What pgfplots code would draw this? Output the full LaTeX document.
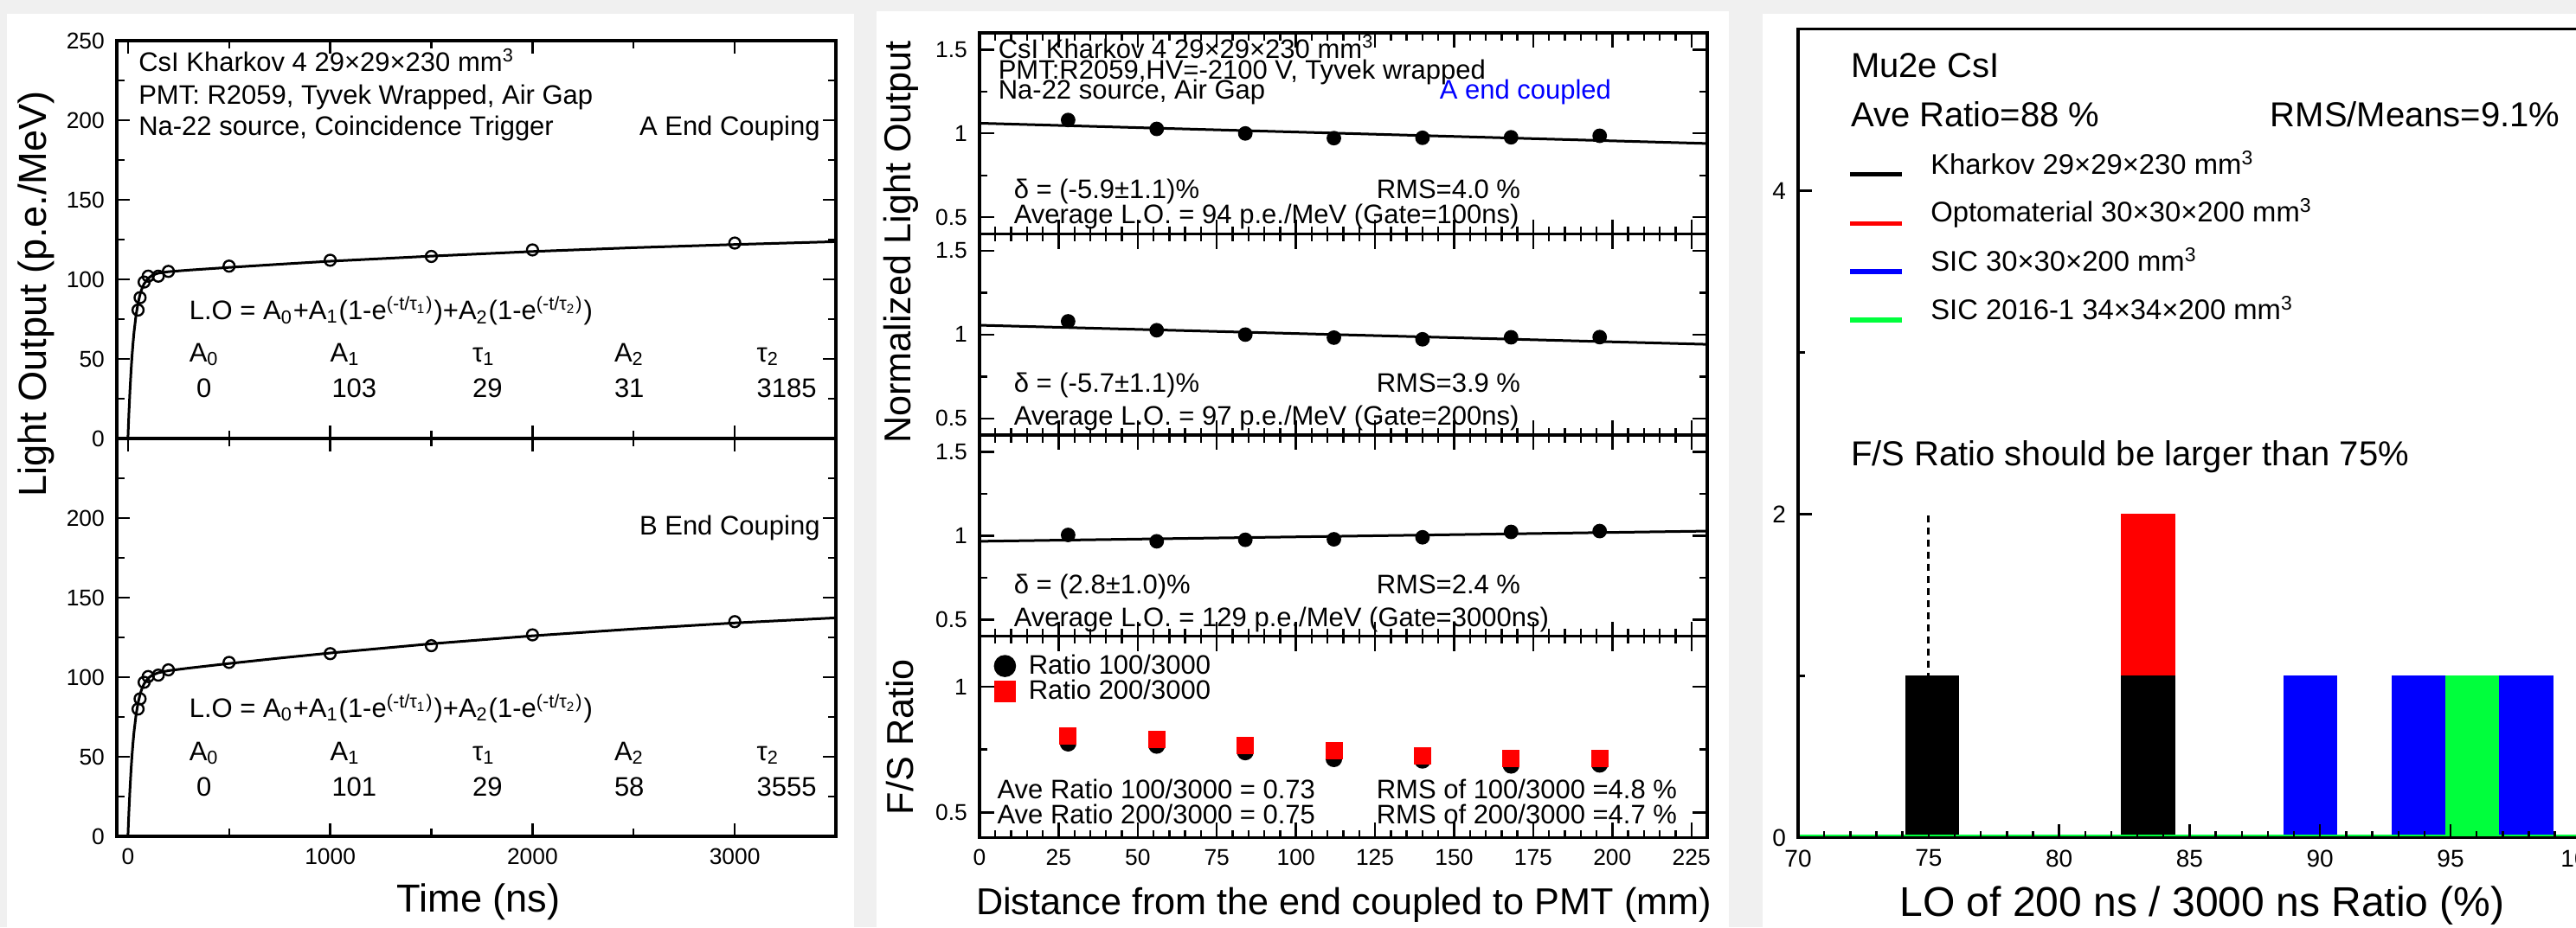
\documentclass[border=0pt]{standalone}
\usepackage{pgfplots}
\pgfplotsset{compat=1.18}
\usepackage{fontspec}
\setmainfont{Liberation Sans}
\definecolor{bg}{HTML}{F0F0F0}
\definecolor{hred}{RGB}{255,0,0}
\definecolor{hblue}{RGB}{0,0,255}
\definecolor{hgreen}{RGB}{0,255,60}
\pgfplotsset{
  common/.style={scale only axis, anchor=south west, tick align=inside,
    axis line style={line width=0.85pt}, tick style={line width=0.6pt,black},
    tick label style={font=\fontsize{6.6}{7}\selectfont}, clip=true},
  leftax/.style={common, width=207.75pt, height=115pt, xmin=-55, xmax=3500, ymin=0, ymax=250,
    xtick={0,1000,2000,3000}, minor xtick={500,1500,2500},
    ytick={0,50,100,150,200,250}, minor ytick={25,75,125,175,225},
    major tick length=3.75pt, minor tick length=2.2pt},
  midax/.style={common, width=210.25pt, height=58.15pt, xmin=0, xmax=230,
    xtick={0,25,50,75,100,125,150,175,200,225}, minor x tick num=4,
    major tick length=4.25pt, minor tick length=2.15pt},
  midy/.style={ymin=0.4, ymax=1.6, ytick={0.5,1,1.5}, yticklabels={0.5,1,1.5}, minor ytick={0.75,1.25}},
  fitline/.style={black, line width=0.75pt, mark=none},
  dots/.style={only marks, mark=*, mark size=1.9pt, black},
  circs/.style={only marks, mark=o, mark size=1.6pt, black, mark options={line width=0.6pt}},
}
\begin{document}
\begin{tikzpicture}
\path[use as bounding box] (0pt,0pt) rectangle (744.25pt,268pt);
\fill[bg] (0pt,0pt) rectangle (744.25pt,268pt);
\fill[white] (2pt,0pt) rectangle (246.75pt,264pt);
\fill[white] (253.25pt,0pt) rectangle (499.5pt,264.75pt);
\fill[white] (509.25pt,0pt) rectangle (744.25pt,264pt);

% ---------------- left: upper
\begin{axis}[leftax, at={(33.75pt,141.25pt)}, xticklabels={}, yticklabels={0,50,100,150,200,250}]
\addplot[fitline] coordinates {(0,0) (2,6.89) (5,16.4) (10,30.1) (15,41.7) (20,51.5) (25,59.7) (30,66.7) (40,77.5) (50,85.1) (60,90.6) (70,94.5) (80,97.2) (100,100.7) (120,102.5) (150,103.9) (200,104.8) (300,105.8) (500,107.5) (750,109.5) (1000,111.4) (1500,114.6) (2000,117.5) (2500,119.9) (3000,121.9) (3500,123.7)};
\addplot[circs] coordinates {(50,80.7) (60,88.5) (80,98.3) (100,102.0) (150,102.0) (200,105.0) (500,108.3) (1000,112.0) (1500,114.4) (2000,118.5) (3000,122.8)};
\end{axis}
% ---------------- left: lower
\begin{axis}[leftax, at={(33.75pt,26.25pt)}, xticklabels={0,1000,2000,3000}, yticklabels={0,50,100,150,200,{}}]
\addplot[fitline] coordinates {(0,0) (2,6.77) (5,16.1) (10,29.6) (15,41.0) (20,50.6) (25,58.7) (30,65.6) (40,76.2) (50,83.8) (60,89.2) (70,93.1) (80,95.9) (100,99.4) (120,101.3) (150,102.8) (200,104.1) (300,105.7) (500,108.6) (750,112.0) (1000,115.2) (1500,121.0) (2000,126.0) (2500,130.3) (3000,134.1) (3500,137.3)};
\addplot[circs] coordinates {(50,80.0) (60,86.4) (80,96.8) (100,100.4) (150,101.3) (200,104.6) (500,109.3) (1000,114.8) (1500,119.8) (2000,126.6) (3000,134.9)};
\end{axis}

% ---------------- middle panels
\begin{axis}[midax, midy, at={(283pt,200.35pt)}, xticklabels={}]
\addplot[fitline] coordinates {(0,1.061) (230,0.940)};
\addplot[dots] coordinates {(28,1.080) (56,1.027) (84,1.000) (112,0.972) (140,0.974) (168,0.977) (196,0.986)};
\end{axis}
\begin{axis}[midax, midy, at={(283pt,142.2pt)}, xticklabels={}]
\addplot[fitline] coordinates {(0,1.056) (230,0.942)};
\addplot[dots] coordinates {(28,1.079) (56,1.026) (84,1.000) (112,0.982) (140,0.972) (168,0.984) (196,0.985)};
\end{axis}
\begin{axis}[midax, midy, at={(283pt,84.05pt)}, xticklabels={}]
\addplot[fitline] coordinates {(0,0.967) (230,1.028)};
\addplot[dots] coordinates {(28,1.005) (56,0.967) (84,0.976) (112,0.979) (140,0.991) (168,1.023) (196,1.028)};
\end{axis}
\begin{axis}[midax, at={(283pt,25.9pt)}, ymin=0.4, ymax=1.2, ytick={0.5,1}, yticklabels={0.5,1}, minor ytick={0.75},
  xticklabels={0,25,50,75,100,125,150,175,200,225}]
\addplot[only marks, mark=*, mark size=2.2pt, black] coordinates {(28,0.775) (56,0.766) (84,0.740) (112,0.713) (140,0.707) (168,0.687) (196,0.691)};
\addplot[only marks, mark=square*, mark size=2.3pt, hred, mark options={fill=hred,draw=hred}] coordinates {(28,0.803) (56,0.789) (84,0.766) (112,0.746) (140,0.725) (168,0.714) (196,0.713)};
\addplot[only marks, mark=*, mark size=3pt, black] coordinates {(8.04,1.082)};
\addplot[only marks, mark=square*, mark size=2.95pt, hred, mark options={fill=hred,draw=hred}] coordinates {(8.04,0.981)};
\end{axis}

% ---------------- right histogram
\begin{axis}[common, at={(519.5pt,25.875pt)}, width=226.2pt, height=233.75pt,
  xmin=70, xmax=100, ymin=0, ymax=5, tick pos=left, axis on top,
  xtick={70,75,80,85,90,95,100}, xticklabels={70,75,80,85,90,95,100}, minor x tick num=4,
  ytick={0,2,4}, yticklabels={0,2,4}, minor ytick={1,3},
  major tick length=4pt, minor tick length=2pt,
  tick label style={font=\fontsize{7}{8}\selectfont}]
\addplot[black, line width=0.8pt, dash pattern=on 2.1pt off 1.4pt] coordinates {(75,0) (75,2)};
\addplot[fill=black, draw=none] coordinates {(74.1,1) (76.17,1)} \closedcycle;
\addplot[fill=hred, draw=none] coordinates {(82.38,2) (84.45,2)} \closedcycle;
\addplot[fill=black, draw=none] coordinates {(82.38,1) (84.45,1)} \closedcycle;
\addplot[fill=hblue, draw=none] coordinates {(88.59,1) (90.66,1)} \closedcycle;
\addplot[fill=hblue, draw=none] coordinates {(92.73,1) (94.80,1)} \closedcycle;
\addplot[fill=hgreen, draw=none] coordinates {(94.80,1) (96.87,1)} \closedcycle;
\addplot[fill=hblue, draw=none] coordinates {(96.87,1) (98.94,1)} \closedcycle;
\addplot[hgreen, line width=0.75pt] coordinates {(70,0.01) (100,0.01)};
\addplot[black, line width=1.3pt] coordinates {(72.0,4.102) (73.98,4.102)};
\addplot[hred, line width=1.3pt] coordinates {(72.0,3.798) (73.98,3.798)};
\addplot[hblue, line width=1.3pt] coordinates {(72.0,3.500) (73.98,3.500)};
\addplot[hgreen, line width=1.3pt] coordinates {(72.0,3.201) (73.98,3.201)};
\end{axis}

% ---------------- texts (image pixel coordinates)
\begin{scope}[shift={(0pt,268pt)}, x=0.25pt, y=-0.25pt,
  txt/.style={font=\fontsize{7.75}{8}\selectfont, inner sep=0pt, anchor=base west},
  big/.style={font=\fontsize{10}{11}\selectfont, inner sep=0pt, anchor=base west},
  leg/.style={font=\fontsize{8.2}{9}\selectfont, inner sep=0pt, anchor=base west}]
% left upper
\node[txt] at (159.5,83) {CsI Kharkov 4 29×29×230 mm\textsuperscript{3}};
\node[txt] at (159.5,120.5) {PMT: R2059, Tyvek Wrapped, Air Gap};
\node[txt] at (159.5,156.7) {Na-22 source, Coincidence Trigger};
\node[txt, anchor=base east] at (948.4,156.7) {A End Couping};
\node[txt] at (218,370) {L.O = A\textsubscript{0}+A\textsubscript{1}(1-e\textsuperscript{(-t/τ\textsubscript{1})})+A\textsubscript{2}(1-e\textsuperscript{(-t/τ\textsubscript{2})})};
\node[txt] at (218,418.5) {A\textsubscript{0}};
\node[txt] at (380.8,418.5) {A\textsubscript{1}};
\node[txt] at (545.3,418.5) {τ\textsubscript{1}};
\node[txt] at (709.2,418.5) {A\textsubscript{2}};
\node[txt] at (873.8,418.5) {τ\textsubscript{2}};
\node[txt] at (226.4,459.8) {0};
\node[txt] at (382.7,459.8) {103};
\node[txt] at (545.3,459.8) {29};
\node[txt] at (709.2,459.8) {31};
\node[txt] at (873.8,459.8) {3185};
% left lower
\node[txt, anchor=base east] at (948.4,618) {B End Couping};
\node[txt] at (218,829.5) {L.O = A\textsubscript{0}+A\textsubscript{1}(1-e\textsuperscript{(-t/τ\textsubscript{1})})+A\textsubscript{2}(1-e\textsuperscript{(-t/τ\textsubscript{2})})};
\node[txt] at (218,879.3) {A\textsubscript{0}};
\node[txt] at (380.8,879.3) {A\textsubscript{1}};
\node[txt] at (545.3,879.3) {τ\textsubscript{1}};
\node[txt] at (709.2,879.3) {A\textsubscript{2}};
\node[txt] at (873.8,879.3) {τ\textsubscript{2}};
\node[txt] at (226.4,920) {0};
\node[txt] at (382.7,920) {101};
\node[txt] at (545.3,920) {29};
\node[txt] at (709.2,920) {58};
\node[txt] at (873.8,920) {3555};
\node[font=\fontsize{11.3}{12}\selectfont, inner sep=0pt, anchor=base] at (553,1054) {Time (ns)};
\node[font=\fontsize{11.3}{12}\selectfont, inner sep=0pt, rotate=90] at (41.5,340) {Light Output (p.e./MeV)};
% middle
\node[txt] at (1153,67.2) {CsI Kharkov 4 29×29×230 mm\textsuperscript{3}};
\node[txt] at (1153,91.3) {PMT:R2059,HV=-2100 V, Tyvek wrapped};
\node[txt] at (1153,114.7) {Na-22 source, Air Gap};
\node[txt, text=hblue] at (1663,114.7) {A end coupled};
\node[txt] at (1171,230) {δ = (-5.9±1.1)\%};
\node[txt] at (1590,230) {RMS=4.0 \%};
\node[txt] at (1171,259) {Average L.O. = 94 p.e./MeV (Gate=100ns)};
\node[txt] at (1171,454) {δ = (-5.7±1.1)\%};
\node[txt] at (1590,454) {RMS=3.9 \%};
\node[txt] at (1171,491.8) {Average L.O. = 97 p.e./MeV (Gate=200ns)};
\node[txt] at (1171,686.6) {δ = (2.8±1.0)\%};
\node[txt] at (1590,686.6) {RMS=2.4 \%};
\node[txt] at (1171,724.9) {Average L.O. = 129 p.e./MeV (Gate=3000ns)};
\node[txt] at (1188,779.2) {Ratio 100/3000};
\node[txt] at (1188,808) {Ratio 200/3000};
\node[txt] at (1151.8,923.4) {Ave Ratio 100/3000 = 0.73};
\node[txt] at (1590,923.4) {RMS of 100/3000 =4.8 \%};
\node[txt] at (1151.8,952.2) {Ave Ratio 200/3000 = 0.75};
\node[txt] at (1590,952.2) {RMS of 200/3000 =4.7 \%};
\node[font=\fontsize{10.8}{12}\selectfont, inner sep=0pt, anchor=base] at (1553,1057.4) {Distance from the end coupled to PMT (mm)};
\node[font=\fontsize{10.8}{12}\selectfont, inner sep=0pt, rotate=90] at (1041.5,280) {Normalized Light Output};
\node[font=\fontsize{10.8}{12}\selectfont, inner sep=0pt, rotate=90] at (1040,852) {F/S Ratio};
% right
\node[big] at (2138.3,89.5) {Mu2e CsI};
\node[big] at (2138.3,146.4) {Ave Ratio=88 \%};
\node[big] at (2623,146.4) {RMS/Means=9.1\%};
\node[leg] at (2230.5,201.5) {Kharkov 29×29×230 mm\textsuperscript{3}};
\node[leg] at (2230.5,256.6) {Optomaterial 30×30×200 mm\textsuperscript{3}};
\node[leg] at (2230.5,314) {SIC 30×30×200 mm\textsuperscript{3}};
\node[leg] at (2230.5,370) {SIC 2016-1 34×34×200 mm\textsuperscript{3}};
\node[big] at (2138.3,539) {F/S Ratio should be larger than 75\%};
\node[font=\fontsize{12}{13}\selectfont, inner sep=0pt, anchor=base] at (2545,1059) {LO of 200 ns / 3000 ns Ratio (\%)};
\end{scope}
\end{tikzpicture}
\end{document}
